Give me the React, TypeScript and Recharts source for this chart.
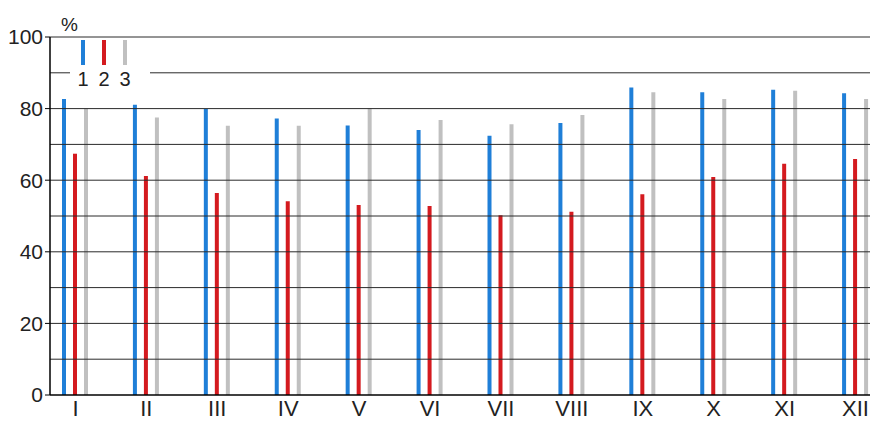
import { BarChart, Bar, XAxis, YAxis, ReferenceLine } from 'recharts';

const months = ['I', 'II', 'III', 'IV', 'V', 'VI', 'VII', 'VIII', 'IX', 'X', 'XI', 'XII'];
const series1 = [82.7, 81.1, 79.9, 77.2, 75.3, 74.0, 72.4, 76.0, 85.9, 84.6, 85.3, 84.3];
const series2 = [67.4, 61.2, 56.4, 54.1, 53.1, 52.8, 50.2, 51.2, 56.1, 60.9, 64.6, 65.9];
const series3 = [80.0, 77.5, 75.2, 75.2, 80.0, 76.8, 75.6, 78.2, 84.6, 82.7, 85.0, 82.7];
const yTicks = [0, 20, 40, 60, 80, 100];
const gridValues = [10, 20, 30, 40, 50, 60, 70, 80, 90, 100];
const seriesNames = ['1', '2', '3'];
const seriesKeys = ['s1', 's2', 's3'];
const seriesColors = ['#1f7fd8', '#d41a1f', '#c0c0c0'];

const data = months.map((m, i) => ({
  month: m,
  s1: series1[i],
  s2: series2[i],
  s3: series3[i],
}));

const font = '"Liberation Sans", Arial, sans-serif';

export default function App() {
  return (
    <div
      style={{
        position: 'relative',
        margin: '-8px 0 0 -8px',
        width: 878,
        height: 421,
        overflow: 'hidden',
        background: '#fff',
        fontFamily: font,
      }}
    >
      <BarChart
        width={891}
        height={421}
        data={data}
        margin={{ top: 37, right: 0, left: 0, bottom: 0 }}
        barSize={4}
        barGap={7}
      >
        {gridValues.map((v) => (
          <ReferenceLine key={v} y={v} stroke="#2a2a2a" strokeWidth={1} />
        ))}
        <XAxis
          dataKey="month"
          axisLine={{ stroke: '#000', strokeWidth: 1.5 }}
          tickLine={false}
          tickSize={0}
          tickMargin={5}
          height={26}
          interval={0}
          padding={{ left: -10, right: 0 }}
          tick={{ fill: '#222', fontSize: 22, fontFamily: font }}
        />
        <YAxis
          domain={[0, 100]}
          ticks={yTicks}
          width={50}
          axisLine={{ stroke: '#000', strokeWidth: 1.5 }}
          tickLine={{ stroke: '#000' }}
          tickSize={5}
          tickMargin={2}
          tick={{ fill: '#222', fontSize: 21, fontFamily: font }}
        />
        {seriesKeys.map((k, i) => (
          <Bar
            key={k}
            dataKey={k}
            name={seriesNames[i]}
            fill={seriesColors[i]}
            isAnimationActive={false}
          />
        ))}
      </BarChart>
      <div
        style={{
          position: 'absolute',
          left: 61,
          top: 14,
          fontSize: 19,
          color: '#222',
        }}
      >
        %
      </div>
      <div
        style={{
          position: 'absolute',
          left: 70,
          top: 40,
          width: 80,
          height: 52,
          background: '#fff',
        }}
      >
        {seriesNames.map((n, i) => (
          <div
            key={n}
            style={{ position: 'absolute', left: 3 + i * 21, top: 0, width: 20 }}
          >
            <div
              style={{
                marginLeft: 8,
                width: 4,
                height: 25,
                background: seriesColors[i],
              }}
            />
            <div
              style={{
                position: 'absolute',
                top: 29,
                left: 0,
                width: 20,
                textAlign: 'center',
                fontSize: 20,
                lineHeight: '20px',
                color: '#222',
              }}
            >
              {n}
            </div>
          </div>
        ))}
      </div>
    </div>
  );
}
